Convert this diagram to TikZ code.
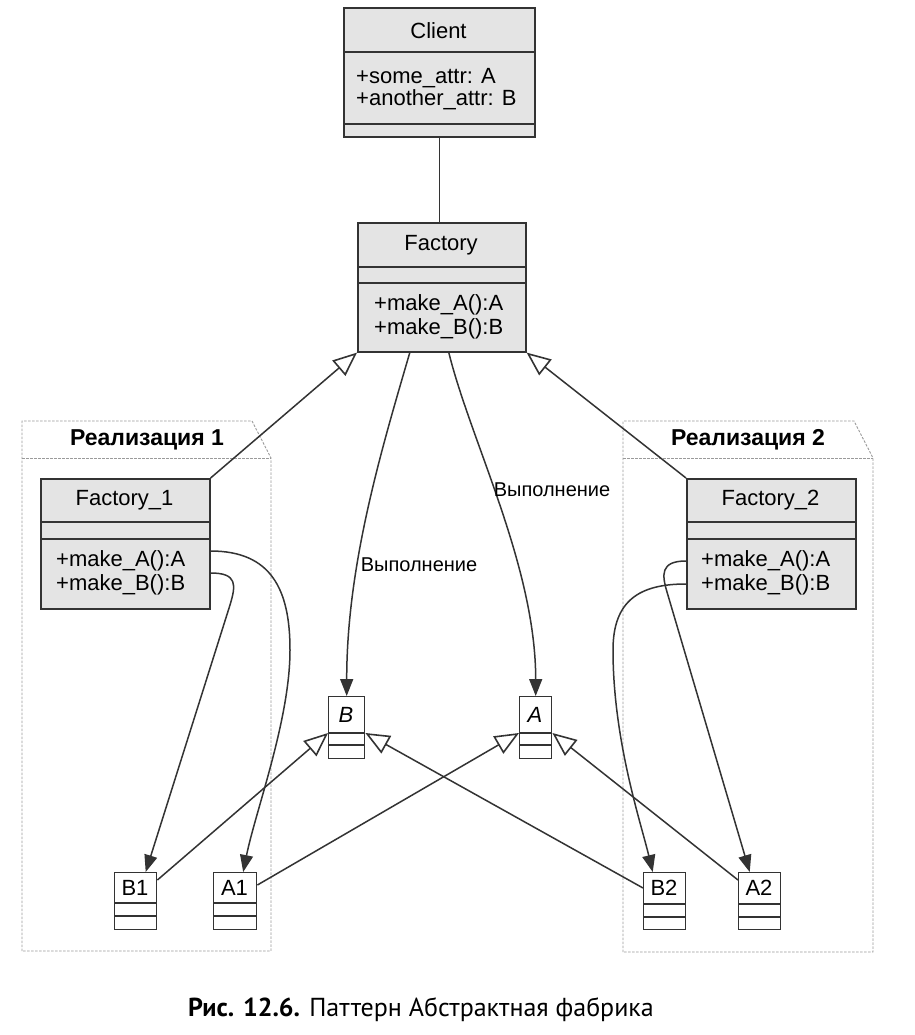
\documentclass[tikz,border=0pt]{standalone}
\usepackage{fontspec}
\setmainfont{Liberation Sans}
\newfontfamily\capfont{PT Sans}
\usetikzlibrary{arrows.meta}
\definecolor{boxfill}{HTML}{E4E4E4}
\definecolor{linec}{HTML}{333333}
\definecolor{pkgc}{HTML}{9A9A9A}
\tikzset{
  cls/.style={draw=linec, fill=boxfill, line width=1.6pt, rectangle, inner sep=0pt, anchor=north west},
  smallcls/.style={draw=linec, fill=white, line width=1.4pt, rectangle, inner sep=0pt, anchor=north west},
  sepline/.style={draw=linec, line width=1.4pt},
  txt/.style={font=\fontsize{22}{24}\selectfont, text=black, inner sep=0pt},
  lbl/.style={font=\fontsize{20}{23}\selectfont, text=black, inner sep=0pt},
  pkg/.style={draw=pkgc, line width=0.9pt, dash pattern=on 2.5pt off 1.5pt},
  pkgtitle/.style={font=\fontsize{23}{26}\selectfont\bfseries, text=black, inner sep=0pt},
  gentip/.tip={Triangle[open, length=24pt, width=20pt, line width=1.6pt]},
  deptip/.tip={Triangle[length=17pt, width=13pt]},
  gen/.style={draw=linec, line width=1.5pt, -gentip},
  dep/.style={draw=linec, line width=1.5pt, -deptip},
  plainline/.style={draw=linec, line width=1.5pt}
}
\begin{document}
\begin{tikzpicture}[x=1pt, y=-1pt]
\useasboundingbox[fill=white] (0,0) rectangle (914,1035);

% packages
\draw[pkg] (22,951) -- (22,421) -- (252,421) -- (271,458) -- (271,951) -- cycle;
\draw[pkg] (22,458) -- (271,458);
\node[pkgtitle] (p1title) at (147,440) {Реализация 1};
\draw[pkg] (623,952) -- (623,421) -- (854,421) -- (873,458) -- (873,952) -- cycle;
\draw[pkg] (623,458) -- (873,458);
\node[pkgtitle] (p2title) at (748,440) {Реализация 2};

% Client
\node[cls, minimum width=191pt, minimum height=129pt] (client) at (343,7) {};
\draw[sepline] (343,52) -- (534,52);
\draw[sepline] (343,124) -- (534,124);
\node[txt] (clientname) at (438.5,31) {Client};
\node[txt, anchor=west, align=left, font=\fontsize{22}{22}\selectfont] (clientattr) at (356,89) {+some\_attr: A\\+another\_attr: B};

% Factory
\node[cls, minimum width=168pt, minimum height=129pt] (factory) at (357,222) {};
\draw[sepline] (357,267) -- (525,267);
\draw[sepline] (357,283) -- (525,283);
\node[txt] (factoryname) at (441,245) {Factory};
\node[txt, anchor=west, align=left] (factoryops) at (374,317) {+make\_A():A\\+make\_B():B};

% Factory_1
\node[cls, minimum width=169pt, minimum height=130pt] (f1) at (40,478) {};
\draw[sepline] (40,522) -- (209,522);
\draw[sepline] (40,539) -- (209,539);
\node[txt] (f1name) at (124.5,500) {Factory\_1};
\node[txt, anchor=west, align=left] (f1ops) at (56,573) {+make\_A():A\\+make\_B():B};

% Factory_2
\node[cls, minimum width=169pt, minimum height=130pt] (f2) at (686,478) {};
\draw[sepline] (686,522) -- (855,522);
\draw[sepline] (686,539) -- (855,539);
\node[txt] (f2name) at (770.5,500) {Factory\_2};
\node[txt, anchor=west, align=left] (f2ops) at (701,573) {+make\_A():A\\+make\_B():B};

% B and A
\node[smallcls, minimum width=36pt, minimum height=62pt] (b) at (328,696) {};
\draw[sepline] (328,733) -- (364,733);
\draw[sepline] (328,745) -- (364,745);
\node[txt, font=\fontsize{22}{24}\selectfont\itshape] (bname) at (346,715) {B};
\node[smallcls, minimum width=32pt, minimum height=62pt] (a) at (519,696) {};
\draw[sepline] (519,733) -- (551,733);
\draw[sepline] (519,745) -- (551,745);
\node[txt, font=\fontsize{22}{24}\selectfont\itshape] (aname) at (535,715) {A};

% concrete products
\node[smallcls, minimum width=42pt, minimum height=57pt] (b1) at (114,872) {};
\draw[sepline] (114,903) -- (156,903);
\draw[sepline] (114,916) -- (156,916);
\node[txt] (b1name) at (135,888) {B1};
\node[smallcls, minimum width=43pt, minimum height=57pt] (a1) at (213,872) {};
\draw[sepline] (213,903) -- (256,903);
\draw[sepline] (213,916) -- (256,916);
\node[txt] (a1name) at (234.5,888) {A1};
\node[smallcls, minimum width=42pt, minimum height=57pt] (b2) at (643,872) {};
\draw[sepline] (643,904) -- (685,904);
\draw[sepline] (643,917) -- (685,917);
\node[txt] (b2name) at (664,888) {B2};
\node[smallcls, minimum width=42pt, minimum height=57pt] (a2) at (738,872) {};
\draw[sepline] (738,904) -- (780,904);
\draw[sepline] (738,917) -- (780,917);
\node[txt] (a2name) at (759,888) {A2};

% connectors
\draw[plainline] (client.south) -- (client.south |- factory.north);
\draw[gen] (f1.north east) -- (factory.south west);
\draw[gen] (f2.north west) -- (factory.south east);

\draw[dep] ([xshift=-32pt]factory.south) .. controls +(-29,99) and +(0,-130) .. (b.north);
\draw[dep] ([xshift=7pt]factory.south) .. controls +(22,89) and +(0,-130) .. (a.north);
\node[lbl] (exec1) at (419,565) {Выполнение};
\node[lbl] (exec2) at (552,490) {Выполнение};

\draw[dep] ([yshift=-73pt]f1.north east) .. controls +(61,0) and +(0,-60) .. (290,650)
   .. controls +(0,70) and +(12,-60) .. ([xshift=8pt]a1.north);
\draw[dep] ([yshift=-95pt]f1.north east) .. controls +(27,0) and +(6,-20) .. (230,605) -- ([xshift=10pt]b1.north);
\draw[dep] ([yshift=-83pt]f2.north west) .. controls +(-26,0) and +(-5,-17) .. (667,592) -- ([xshift=-10pt]a2.north);
\draw[dep] ([yshift=-106pt]f2.north west) .. controls +(-46,0) and +(0,-50) .. (613,650)
   .. controls +(0,90) and +(-12,-50) .. ([xshift=-12pt]b2.north);

\draw[gen] ([yshift=-8pt]b1.north east) -- ([yshift=-37pt]b.north west);
\draw[gen] ([yshift=-13pt]a1.north east) -- ([yshift=-37pt]a.north west);
\draw[gen] ([yshift=-16pt]b2.north west) -- ([yshift=-37pt]b.north east);
\draw[gen] ([yshift=-8pt]a2.north west) -- ([yshift=-37pt]a.north east);

% caption
\node[inner sep=0pt, font=\capfont\fontsize{26}{30}\selectfont] (caption) at (421,1010) {\textbf{Рис. 12.6.} Паттерн Абстрактная фабрика};
\end{tikzpicture}
\end{document}
